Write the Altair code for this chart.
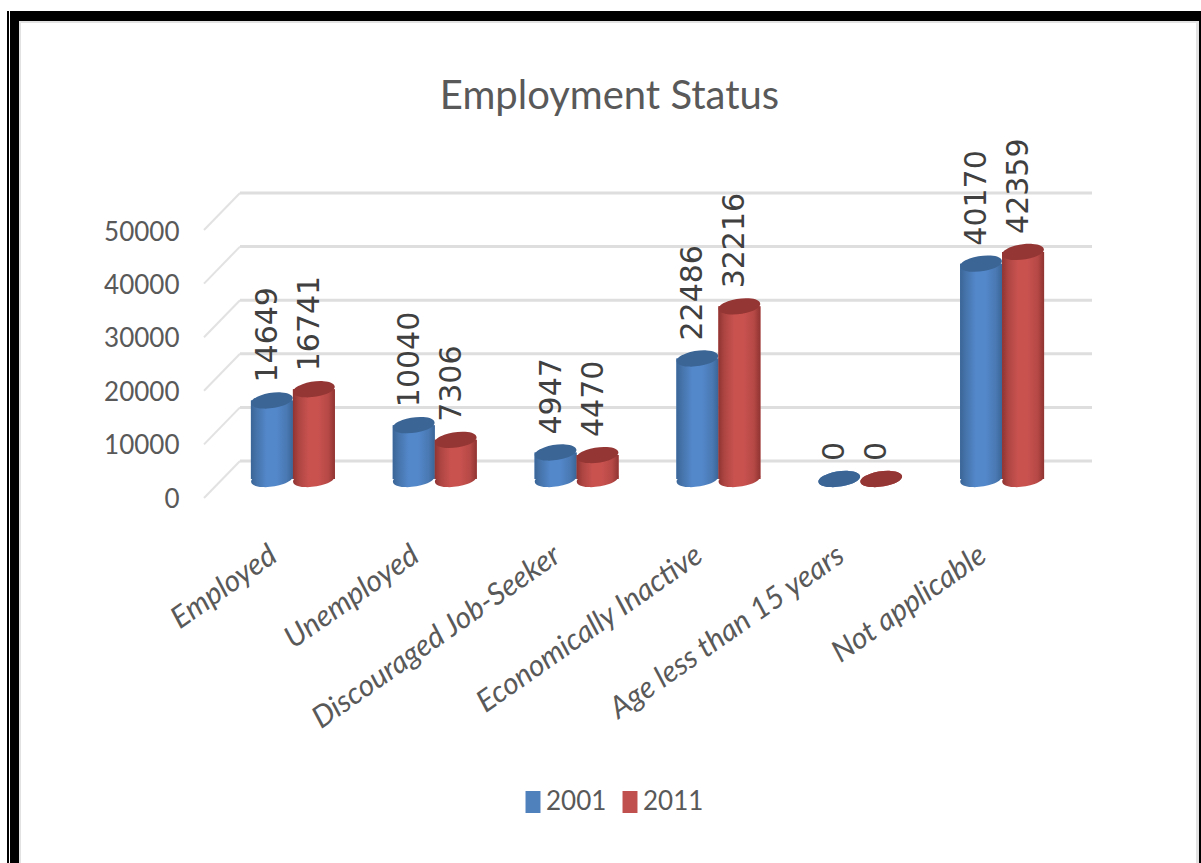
import altair as alt
import pandas as pd

# Chart values
categories = ["Employed", "Unemployed", "Discouraged Job-Seeker",
              "Economically Inactive", "Age less than 15 years", "Not applicable"]
values_2001 = [14649, 10040, 4947, 22486, 0, 40170]
values_2011 = [16741, 7306, 4470, 32216, 0, 42359]
years = ["2001", "2011"]
axis_ticks = [0, 10000, 20000, 30000, 40000, 50000]

FONT = "Lato"
W, H = 1201, 863

rows = []
for c, a, b in zip(categories, values_2001, values_2011):
    rows.append({"category": c, "year": "2001", "value": a})
    rows.append({"category": c, "year": "2011", "value": b})
df = pd.DataFrame(rows)
ticks = pd.DataFrame({"tick": axis_ticks})

# Three depth planes of the pseudo-3D chart share one value span at different pixel heights
bar_y = alt.Scale(domain=[0, 50000], range=[479, 211])
wall_y = alt.Scale(domain=[0, 50000], range=[461, 193])
label_y = alt.Scale(domain=[0, 50000], range=[499, 232])
x_scale = alt.Scale(domain=categories, range=[222, 1073], paddingInner=0.408, paddingOuter=0.204)
category_axis = alt.Axis(orient="bottom", offset=-315, title=None, domain=False, ticks=False,
                         labelAngle=325, labelAlign="right", labelBaseline="middle",
                         labelOffset=-19, labelPadding=4, labelFont=FONT, labelFontStyle="italic",
                         labelFontSize=30, labelColor="#595959", labelLimit=500,
                         labelOverlap=False)
x_cat = alt.X("category:N", scale=x_scale, axis=category_axis)
offset = alt.XOffset("year:N", scale=alt.Scale(domain=years, paddingInner=0, paddingOuter=0))

# Tilted unit ellipse used for the cylinder caps and bases
ELLIPSE = "M-0.99,0.14 A1,0.36,-8,1,1,0.99,-0.14 A1,0.36,-8,1,1,-0.99,0.14 Z"
CAP_SIZE = 42 ** 2

palette = {
    "2001": {"flat": "#4f81bd", "cap": "#3b6595",
             "stops": ["#3a6597", "#4674ab", "#5388cb", "#5388cb", "#4a79b3", "#3a6597"]},
    "2011": {"flat": "#c0504d", "cap": "#943634",
             "stops": ["#8f3432", "#ad4542", "#c9524f", "#c9524f", "#b54845", "#8f3432"]},
}


def gradient(stops):
    places = [0, 0.14, 0.38, 0.6, 0.85, 1]
    return alt.Gradient(gradient="linear", x1=0, x2=1, y1=0, y2=0,
                        stops=[alt.GradientStop(offset=o, color=c) for o, c in zip(places, stops)])


# Page frame: black bands with a pale inner edge
frame_parts = [
    (7, 9, 11, H, "#000000"),
    (10, 19, 11, H, "#000000"),
    (19, 21, 21, H, "#e2e2e2"),
    (10, W, 11, 21, "#000000"),
    (19, 1199, 21, 23, "#e2e2e2"),
    (1196, 1199, 21, H, "#e2e2e2"),
    (1199, W, 11, H, "#000000"),
]
holder = pd.DataFrame({"k": [0]})
frame = [
    alt.Chart(holder).mark_rect(color=shade).encode(
        x=alt.value(x0), x2=alt.value(x1), y=alt.value(y0), y2=alt.value(y1)
    )
    for x0, x1, y0, y1, shade in frame_parts
]

# Back wall gridlines and the diagonal floor edges
grid = alt.Chart(ticks).mark_rule(color="#dedede", strokeWidth=3).encode(
    x=alt.value(240), x2=alt.value(1092),
    y=alt.Y("tick:Q", scale=wall_y, axis=None),
)
diagonal = alt.Chart(ticks).transform_calculate(front="datum.tick - 37 * 50000 / 268").mark_rule(
    color="#e2e2e2", strokeWidth=2
).encode(
    x=alt.value(240), x2=alt.value(204),
    y=alt.Y("tick:Q", scale=wall_y, axis=None),
    y2="front:Q",
)

# Value axis sits on the front plane
value_axis = alt.Chart(ticks).mark_point(opacity=0).encode(
    y=alt.Y("tick:Q", scale=label_y,
            axis=alt.Axis(values=axis_ticks, orient="left", offset=-190, title=None, grid=False,
                          domain=False, ticks=False, labelPadding=11, labelFont=FONT,
                          labelFontSize=26, labelColor="#595959", format="d")),
)

# Flat base bars carry the legend colours
base_bars = alt.Chart(df).mark_bar(size=42).encode(
    x=x_cat,
    xOffset=offset,
    y=alt.Y("value:Q", scale=bar_y, axis=None),
    y2=alt.datum(0),
    color=alt.Color("year:N",
                    scale=alt.Scale(domain=years, range=[palette[y]["flat"] for y in years]),
                    legend=alt.Legend(orient="none", legendX=520, legendY=789, direction="horizontal",
                                      title=None, symbolType="M-0.68,-1H0.68V1H-0.68Z", symbolSize=484,
                                      symbolStrokeWidth=0, labelFont=FONT, labelFontSize=26,
                                      labelColor="#595959", columnPadding=10, labelOffset=0,
                                      symbolOpacity=1)),
)


def cylinder(year):
    subset = df[df.year == year]
    tone = palette[year]
    body = alt.Chart(subset).mark_bar(size=42, fill=gradient(tone["stops"])).encode(
        x=x_cat, xOffset=offset,
        y=alt.Y("value:Q", scale=bar_y, axis=None), y2=alt.datum(0),
    )
    bottom = alt.Chart(subset).mark_point(
        shape=ELLIPSE, size=CAP_SIZE, filled=True, opacity=1, fill=gradient(tone["stops"]), strokeWidth=0
    ).encode(
        x=x_cat, xOffset=offset,
        y=alt.Y("zero:Q", scale=bar_y, axis=None),
    ).transform_calculate(zero="0")
    top = alt.Chart(subset).mark_point(
        shape=ELLIPSE, size=CAP_SIZE, filled=True, opacity=1, fill=tone["cap"], strokeWidth=0
    ).encode(
        x=x_cat, xOffset=offset,
        y=alt.Y("value:Q", scale=bar_y, axis=None),
    )
    return [bottom, body, top]


# Vertical value labels above each cylinder
labels = alt.Chart(df).mark_text(
    angle=270, align="left", baseline="middle", dx=18, dy=-4,
    font="DejaVu Sans", fontSize=30, color="#404040",
).encode(
    x=x_cat, xOffset=offset,
    y=alt.Y("value:Q", scale=bar_y, axis=None),
    text=alt.Text("value:Q", format="d"),
)

chart = alt.layer(
    *frame, grid, diagonal, value_axis, base_bars,
    *cylinder("2001"), *cylinder("2011"), labels,
).resolve_scale(y="independent").properties(
    width=W, height=H, padding=0,
    autosize=alt.AutoSizeParams(type="none"),
    title=alt.TitleParams("Employment Status", anchor="middle", dx=9, dy=121, font=FONT,
                          fontSize=40, fontWeight="normal", color="#595959"),
).configure_view(stroke=None)

chart.save("out.html", embed_options={"renderer": "svg", "actions": False})
